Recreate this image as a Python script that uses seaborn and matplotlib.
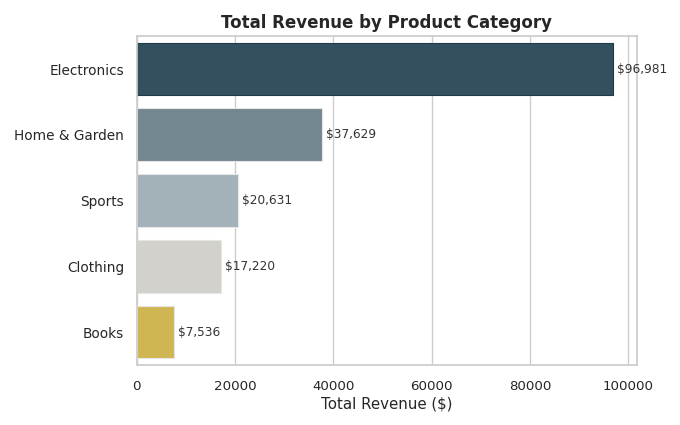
import matplotlib
matplotlib.use("Agg")
import matplotlib.pyplot as plt
import seaborn as sns
import pandas as pd

# Donnees
categories = ["Electronics", "Home & Garden", "Sports", "Clothing", "Books"]
revenue = [96981, 37629, 20631, 17220, 7536]
bar_colors = ["#34505f", "#738791", "#a3b1b8", "#d2d1cc", "#cfb653"]

df = pd.DataFrame({"category": categories, "revenue": revenue})

sns.set_theme(style="whitegrid")
plt.rcParams["font.family"] = ["DejaVu Sans"]

fig, ax = plt.subplots(figsize=(6.8, 4.25), dpi=100)
sns.barplot(data=df, x="revenue", y="category", hue="category",
            palette=bar_colors, saturation=1, legend=False, ax=ax,
            edgecolor="#e6e6e6", linewidth=0.8)
ax.patches[0].set_edgecolor("#1f3a4a")

# Etiquettes de valeur
for bar, val in zip(ax.patches, revenue):
    ax.annotate(f"${val:,}", (bar.get_width(), bar.get_y() + bar.get_height() / 2),
                xytext=(3, 0), textcoords="offset points",
                va="center", ha="left", fontsize=8.7, color="#333333")

ax.set_title("Total Revenue by Product Category", fontsize=12, fontweight="bold")
ax.set_xlabel("Total Revenue ($)", fontsize=10.8, labelpad=2)
ax.set_ylabel("")
ax.tick_params(axis="x", labelsize=9.6, pad=5)
ax.tick_params(axis="y", labelsize=9.8, pad=3)
ax.grid(axis="y", visible=False)
for s in ax.spines.values():
    s.set_color("#cccccc")

fig.subplots_adjust(left=0.201, right=0.937, top=0.915, bottom=0.141)
fig.savefig("out.png", dpi=100)
